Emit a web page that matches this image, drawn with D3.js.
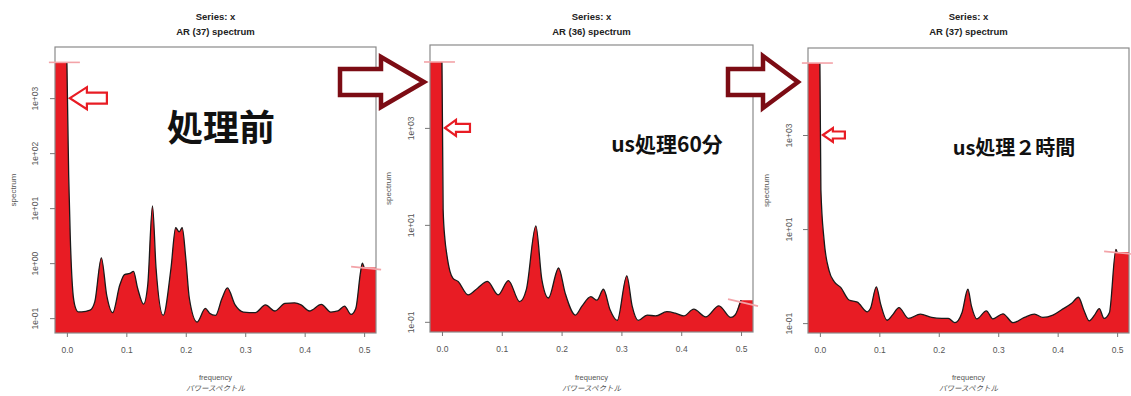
<!DOCTYPE html>
<html>
<head>
<meta charset="utf-8">
<script src="https://cdn.jsdelivr.net/npm/d3@7"></script>
<style>
  html, body { margin: 0; padding: 0; background: #fff; }
  svg { display: block; }
</style>
</head>
<body>
<svg id="chart" width="1131" height="396"></svg>
<script>
// AR spectra of series x, before treatment and after 60 min / 2 h of US treatment

const xTicks = [0.0, 0.1, 0.2, 0.3, 0.4, 0.5];
const xTickLabels = ["0.0", "0.1", "0.2", "0.3", "0.4", "0.5"];

const titles1 = ["Series: x", "AR (37) spectrum"];
const titles2 = ["Series: x", "AR (36) spectrum"];
const titles3 = ["Series: x", "AR (37) spectrum"];

const notes = ["処理前", "us処理60分", "us処理２時間"];

const yTicks1 = [0.1, 1, 10, 100, 1000];
const yTickLabels1 = ["1e-01", "1e+00", "1e+01", "1e+02", "1e+03"];
const yTicks23 = [0.1, 10, 1000];
const yTickLabels23 = ["1e-01", "1e+01", "1e+03"];

// panel 1 : before treatment
const freq1 = [0, 0.003, 0.0056, 0.010, 0.014, 0.019, 0.025, 0.039, 0.047, 0.058, 0.067, 0.077, 0.089, 0.097,
  0.106, 0.112, 0.119, 0.129, 0.136, 0.144, 0.150, 0.162, 0.175, 0.183, 0.189, 0.194, 0.200, 0.206, 0.219,
  0.233, 0.240, 0.250, 0.261, 0.270, 0.283, 0.297, 0.317, 0.334, 0.350, 0.367, 0.383, 0.394, 0.408, 0.428,
  0.444, 0.456, 0.467, 0.478, 0.486, 0.494, 0.497, 0.500];
const spec1 = [4470, 40, 3.2, 0.30, 0.16, 0.13, 0.13, 0.14, 0.20, 1.25, 0.26, 0.126, 0.40, 0.62,
  0.65, 0.71, 0.35, 0.18, 0.40, 11.0, 0.81, 0.112, 0.79, 4.4, 3.7, 4.4, 1.23, 0.23, 0.085,
  0.15, 0.123, 0.112, 0.23, 0.355, 0.174, 0.129, 0.126, 0.174, 0.135, 0.186, 0.19, 0.174, 0.135, 0.178,
  0.129, 0.135, 0.166, 0.117, 0.15, 0.69, 1.0, 0.83];

// panel 2 : US treatment 60 min
const freq2 = [0, 0.002, 0.005, 0.008, 0.0134, 0.0185, 0.027, 0.0436, 0.060, 0.076, 0.094, 0.111, 0.130,
  0.141, 0.157, 0.167, 0.178, 0.195, 0.206, 0.223, 0.234, 0.249, 0.259, 0.270, 0.281, 0.293, 0.309, 0.318,
  0.328, 0.343, 0.357, 0.376, 0.390, 0.404, 0.421, 0.441, 0.463, 0.483, 0.490, 0.500];
const spec2 = [22900, 20, 5.0, 2.5, 1.10, 0.79, 0.68, 0.36, 0.50, 0.68, 0.36, 0.71, 0.26,
  0.46, 9.5, 0.74, 0.31, 1.29, 0.39, 0.138, 0.21, 0.33, 0.28, 0.47, 0.178, 0.107, 0.89, 0.21,
  0.107, 0.138, 0.132, 0.162, 0.151, 0.132, 0.182, 0.126, 0.214, 0.123, 0.138, 0.28];

// panel 3 : US treatment 2 h
const freq3 = [0, 0.0017, 0.007, 0.0156, 0.024, 0.035, 0.049, 0.063, 0.080, 0.085, 0.095, 0.102, 0.113,
  0.122, 0.133, 0.149, 0.169, 0.188, 0.205, 0.216, 0.227, 0.239, 0.249, 0.255, 0.264, 0.280, 0.291, 0.308,
  0.325, 0.344, 0.361, 0.375, 0.392, 0.406, 0.423, 0.435, 0.444, 0.453, 0.462, 0.470, 0.478, 0.487, 0.498, 0.500];
const spec3 = [33900, 68, 5.9, 1.29, 0.76, 0.575, 0.31, 0.28, 0.174, 0.204, 0.59, 0.26, 0.115,
  0.148, 0.214, 0.126, 0.155, 0.132, 0.126, 0.126, 0.102, 0.166, 0.525, 0.23, 0.123, 0.182, 0.123, 0.158,
  0.102, 0.132, 0.155, 0.132, 0.148, 0.19, 0.26, 0.355, 0.19, 0.112, 0.148, 0.204, 0.126, 0.166, 3.7, 3.2];

const FILL = "#e81c24";
const PINK = "#f3a3a8";
const DARKRED = "#7c0c14";
const LATIN = "'Liberation Sans', Arial, sans-serif";
const CJK = "'Noto Sans CJK JP', 'Noto Sans', sans-serif";

const svg = d3.select("#chart");
svg.append("rect").attr("width", 1131).attr("height", 396).attr("fill", "#fff");

const panels = [
  { freq: freq1, spec: spec1, titles: titles1, note: notes[0], yt: yTicks1, ytl: yTickLabels1,
    box: [55, 47, 376, 333], ydom: [Math.pow(10, -1.27), Math.pow(10, 3.93)],
    noteX: 221, noteY: 141, noteSize: 36, arrow: { len: 37, head: 17, hh: 11, sh: 5.5 } },
  { freq: freq2, spec: spec2, titles: titles2, note: notes[1], yt: yTicks23, ytl: yTickLabels23,
    box: [430, 45, 753, 332], ydom: [Math.pow(10, -1.21), Math.pow(10, 4.71)],
    noteX: 667, noteY: 152, noteSize: 21, arrow: { len: 25, head: 11, hh: 8, sh: 4 } },
  { freq: freq3, spec: spec3, titles: titles3, note: notes[2], yt: yTicks23, ytl: yTickLabels23,
    box: [808, 48, 1129, 333], ydom: [Math.pow(10, -1.21), Math.pow(10, 4.85)],
    noteX: 1014, noteY: 155, noteSize: 20, arrow: { len: 22, head: 10, hh: 7, sh: 3.5 } }
];

panels.forEach((p, i) => {
  const [x0, y0, x1, y1] = p.box;
  const xs = d3.scaleLinear().domain([-0.02, 0.52]).range([x0, x1]);
  const ys = d3.scaleLog().domain(p.ydom).range([y1, y0]);
  const g = svg.append("g");

  const pts = p.freq.map((f, k) => ({ f, v: p.spec[k] }));
  const ext = [{ f: -0.02, v: pts[0].v }, ...pts, { f: 0.52, v: pts[pts.length - 1].v }];

  const clipId = "clip" + i;
  svg.append("clipPath").attr("id", clipId)
    .append("rect").attr("x", x0).attr("y", y0 - 6).attr("width", x1 - x0).attr("height", y1 - y0 + 6);

  // filled spectrum
  g.append("path")
    .datum(ext)
    .attr("clip-path", `url(#${clipId})`)
    .attr("fill", FILL)
    .attr("d", d3.area().x(d => xs(d.f)).y0(y1).y1(d => ys(d.v)).curve(d3.curveMonotoneX));

  // spectrum line
  g.append("path")
    .datum(pts)
    .attr("fill", "none")
    .attr("stroke", "#1a1a1a")
    .attr("stroke-width", 1.3)
    .attr("d", d3.line().x(d => xs(d.f)).y(d => ys(d.v)).curve(d3.curveMonotoneX));

  // plot frame
  g.append("rect")
    .attr("x", x0).attr("y", y0).attr("width", x1 - x0).attr("height", y1 - y0)
    .attr("fill", "none").attr("stroke", "#8a8a8a").attr("stroke-width", 1.2);

  // end-value markers at f = 0 and f = 0.5
  const vFirst = pts[0].v, vLast = pts[pts.length - 1].v;
  g.append("line")
    .attr("x1", xs(0) - 18).attr("x2", xs(0) + 13)
    .attr("y1", ys(vFirst)).attr("y2", ys(vFirst))
    .attr("stroke", PINK).attr("stroke-width", 1.6);
  g.append("line")
    .attr("x1", xs(0.5) - 13).attr("x2", xs(0.5) + 17)
    .attr("y1", ys(vLast) - 1).attr("y2", ys(vLast) + (i === 1 ? 6 : 2))
    .attr("stroke", PINK).attr("stroke-width", 1.6);

  // x axis
  const xAxis = d3.axisBottom(xs).tickValues(xTicks).tickFormat((d, k) => xTickLabels[k])
    .tickSize(4).tickPadding(10);
  const xa = g.append("g").attr("transform", `translate(0,${y1})`).call(xAxis);
  xa.select(".domain").remove();
  xa.selectAll("line").attr("stroke", "#777");
  xa.selectAll("text").attr("font-family", LATIN).attr("font-size", 8.5).attr("fill", "#555");

  // y axis (labels parallel to the axis)
  const yAxis = d3.axisLeft(ys).tickValues(p.yt).tickFormat((d, k) => p.ytl[k]).tickSize(5);
  const ya = g.append("g").attr("transform", `translate(${x0},0)`).call(yAxis);
  ya.select(".domain").remove();
  ya.selectAll("line").attr("stroke", "#777");
  ya.selectAll("text")
    .attr("font-family", LATIN).attr("font-size", 8.5).attr("fill", "#555")
    .attr("x", null).attr("dy", null)
    .attr("text-anchor", "middle")
    .attr("transform", `translate(${i === 0 ? -20 : -19},0) rotate(-90)`)
    .attr("dominant-baseline", "central");

  g.append("text")
    .attr("transform", `translate(${x0 - 42},${(y0 + y1) / 2}) rotate(-90)`)
    .attr("text-anchor", "middle").attr("dominant-baseline", "central")
    .attr("font-family", LATIN).attr("font-size", 8).attr("fill", "#555")
    .text("spectrum");

  // axis titles
  const cx = (x0 + x1) / 2;
  g.append("text").attr("x", cx).attr("y", 380).attr("text-anchor", "middle")
    .attr("font-family", LATIN).attr("font-size", 7.5).attr("fill", "#555").text("frequency");
  g.append("text").attr("x", cx).attr("y", 391).attr("text-anchor", "middle")
    .attr("font-family", CJK).attr("font-size", 7.5).attr("fill", "#555")
    .attr("font-style", "italic").text("パワースペクトル");

  // main title
  g.append("text").attr("x", cx).attr("y", 20).attr("text-anchor", "middle")
    .attr("font-family", LATIN).attr("font-weight", "bold").attr("font-size", 9.5).attr("fill", "#222")
    .text(p.titles[0]);
  g.append("text").attr("x", cx).attr("y", 35).attr("text-anchor", "middle")
    .attr("font-family", LATIN).attr("font-weight", "bold").attr("font-size", 9.5).attr("fill", "#222")
    .text(p.titles[1]);

  // condition label
  g.append("text").attr("x", p.noteX).attr("y", p.noteY).attr("text-anchor", "middle")
    .attr("font-family", CJK).attr("font-weight", "bold").attr("font-size", p.noteSize).attr("fill", "#111")
    .text(p.note);

  // hollow arrow pointing at the 1e+03 level of the low-frequency peak
  const a = p.arrow;
  const tx = xs(0) + 3, ty = ys(1000);
  const poly = [
    [tx, ty], [tx + a.head, ty - a.hh], [tx + a.head, ty - a.sh], [tx + a.len, ty - a.sh],
    [tx + a.len, ty + a.sh], [tx + a.head, ty + a.sh], [tx + a.head, ty + a.hh]
  ];
  g.append("path").attr("d", "M" + poly.map(q => q.join(",")).join("L") + "Z")
    .attr("fill", "#fff").attr("stroke", FILL).attr("stroke-width", 2.2).attr("stroke-linejoin", "miter");
});

// large arrows linking the panels
function bigArrow(tail, tip, base, cy, hh, sh) {
  const poly = [
    [tail, cy - sh], [base, cy - sh], [base, cy - hh], [tip, cy], [base, cy + hh], [base, cy + sh], [tail, cy + sh]
  ];
  svg.append("path").attr("d", "M" + poly.map(q => q.join(",")).join("L") + "Z")
    .attr("fill", "#fff").attr("stroke", DARKRED).attr("stroke-width", 4.5).attr("stroke-linejoin", "miter");
}
bigArrow(340, 424, 381, 82, 25, 13);
bigArrow(728, 798, 763, 82, 26, 13);
</script>
</body>
</html>
